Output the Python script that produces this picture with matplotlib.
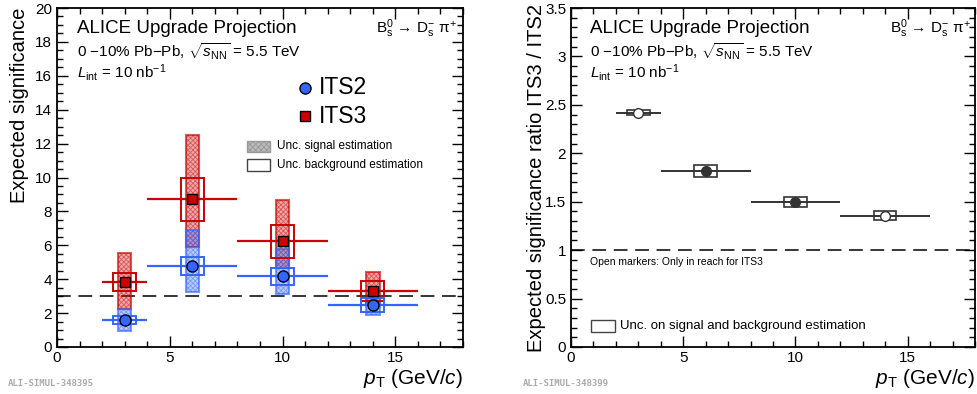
import numpy as np
import matplotlib
matplotlib.use("Agg")
import matplotlib.pyplot as plt
from matplotlib.patches import Rectangle
from matplotlib.ticker import MultipleLocator

plt.rcParams['font.family'] = ['Liberation Sans', 'DejaVu Sans']
plt.rcParams['mathtext.fontset'] = 'custom'
plt.rcParams['mathtext.rm'] = 'Liberation Sans'
plt.rcParams['mathtext.it'] = 'Liberation Sans:italic'
plt.rcParams['mathtext.bf'] = 'Liberation Sans:bold'
plt.rcParams['hatch.linewidth'] = 0.6

# pT bins (GeV/c)
pt = [3, 6, 10, 14]
pt_lo = [2, 4, 8, 12]
pt_hi = [4, 8, 12, 16]

# expected significance
its2 = [1.57, 4.80, 4.16, 2.45]
its3 = [3.82, 8.73, 6.25, 3.31]

# unc. on signal estimation (hatched)
its2_sig_lo = [0.92, 3.25, 3.10, 1.90]
its2_sig_hi = [2.24, 6.90, 5.80, 2.90]
its3_sig_lo = [2.24, 5.92, 4.65, 2.60]
its3_sig_hi = [5.57, 12.50, 8.67, 4.45]

# unc. on background estimation (open boxes)
its2_bkg_lo = [1.35, 4.22, 3.63, 2.06]
its2_bkg_hi = [1.80, 5.33, 4.65, 2.88]
its3_bkg_lo = [3.29, 7.43, 5.27, 2.73]
its3_bkg_hi = [4.35, 9.97, 7.20, 3.88]

# ratio ITS3 / ITS2
ratio = [2.42, 1.82, 1.50, 1.355]
ratio_lo = [2.395, 1.76, 1.445, 1.31]
ratio_hi = [2.445, 1.88, 1.545, 1.40]
ratio_open = [True, False, False, True]

blue = '#3366ff'
red = '#cc0000'
grey = '#333333'

fig = plt.figure(figsize=(9.78, 3.94), dpi=100)
ax1 = fig.add_axes([57/978, 47/394, 406/978, 339/394])
ax2 = fig.add_axes([571/978, 47/394, 404/978, 339/394])


def style_axes(ax, ymaj, ymin):
    ax.set_xlim(0, 18)
    ax.xaxis.set_major_locator(MultipleLocator(5))
    ax.xaxis.set_minor_locator(MultipleLocator(1))
    ax.yaxis.set_major_locator(MultipleLocator(ymaj))
    ax.yaxis.set_minor_locator(MultipleLocator(ymin))
    ax.tick_params(which='both', direction='in', top=True, right=True, labelsize=11, width=1)
    ax.tick_params(which='major', length=8)
    ax.tick_params(which='minor', length=4)
    ax.tick_params(axis='x', pad=3)
    for s in ax.spines.values():
        s.set_linewidth(1.3)


def draw_sig(ax, x, lo, hi, col, w=0.3):
    for xi, l, h in zip(x, lo, hi):
        ax.add_patch(Rectangle((xi - w, l), 2*w, h - l, facecolor=col, alpha=0.33,
                               edgecolor='none', zorder=2))
        ax.add_patch(Rectangle((xi - w, l), 2*w, h - l, fill=False, hatch='xxxxxxx',
                               edgecolor=col, linewidth=0, alpha=0.5, zorder=2))
        ax.add_patch(Rectangle((xi - w, l), 2*w, h - l, fill=False,
                               edgecolor=col, linewidth=1.5, alpha=0.65, zorder=2))


def draw_bkg(ax, x, lo, hi, col, w=0.5, lw=1.4):
    for xi, l, h in zip(x, lo, hi):
        ax.add_patch(Rectangle((xi - w, l), 2*w, h - l, fill=False,
                               edgecolor=col, linewidth=lw, zorder=3))


# ---- left panel ----
style_axes(ax1, 2, 0.5)
ax1.set_ylim(0, 20)
draw_sig(ax1, pt, its3_sig_lo, its3_sig_hi, red)
draw_sig(ax1, pt, its2_sig_lo, its2_sig_hi, blue)
draw_bkg(ax1, pt, its3_bkg_lo, its3_bkg_hi, red)
draw_bkg(ax1, pt, its2_bkg_lo, its2_bkg_hi, blue)
ax1.hlines(its2, pt_lo, pt_hi, color=blue, lw=1.6, zorder=4)
ax1.hlines(its3, pt_lo, pt_hi, color=red, lw=1.6, zorder=4)
ax1.plot(pt, its2, 'o', color=blue, mec='black', mew=1, ms=8, zorder=5)
ax1.plot(pt, its3, 's', color=red, mec='black', mew=1, ms=7.5, zorder=5)
ax1.axhline(3, color='black', lw=1.1, ls=(0, (9, 5)), zorder=1)

decay = 'B$_{\\mathrm{s}}^{0}$ → D$_{\\mathrm{s}}^{-}$ π$^{+}$'

ax1.text(0.049, 0.926, 'ALICE Upgrade Projection', transform=ax1.transAxes, fontsize=13.5)
ax1.text(0.049, 0.855, r'0 $-$10% Pb$-$Pb, $\sqrt{s_{\mathrm{NN}}}$ = 5.5 TeV',
         transform=ax1.transAxes, fontsize=11)
ax1.text(0.049, 0.794, r'$L_{\mathrm{int}}$ = 10 nb$^{-1}$', transform=ax1.transAxes, fontsize=11)
ax1.text(0.985, 0.926, decay, transform=ax1.transAxes, fontsize=11, ha='right')

# legend
ax1.plot([11.0], [15.3], 'o', color=blue, mec='black', mew=1, ms=8)
ax1.text(11.6, 15.3, 'ITS2', fontsize=16.5, va='center')
ax1.plot([11.0], [13.6], 's', color=red, mec='black', mew=1, ms=7.5)
ax1.text(11.6, 13.6, 'ITS3', fontsize=16.5, va='center')
ax1.add_patch(Rectangle((8.42, 11.5), 1.02, 0.65, facecolor='#bbbbbb', hatch='xxxxxx',
                        edgecolor='#999999', linewidth=1))
ax1.text(9.75, 11.84, 'Unc. signal estimation', fontsize=8.5, va='center')
ax1.add_patch(Rectangle((8.42, 10.38), 1.02, 0.71, fill=False, edgecolor='#444444', linewidth=1))
ax1.text(9.75, 10.74, 'Unc. background estimation', fontsize=8.5, va='center')

fig.text(20/978, 1 - 8/394, 'Expected significance', rotation=90, fontsize=14.5,
         ha='center', va='top')
fig.text(463/978, 1 - 384/394, r'$p_{\mathrm{T}}$ (GeV/$c$)', fontsize=15, ha='right', va='baseline')

# ---- right panel ----
style_axes(ax2, 0.5, 0.1)
ax2.set_ylim(0, 3.5)
ax2.yaxis.set_major_formatter(matplotlib.ticker.FuncFormatter(lambda v, p: '%g' % v))
draw_bkg(ax2, pt, ratio_lo, ratio_hi, grey, lw=1.2)
ax2.hlines(ratio, pt_lo, pt_hi, color=grey, lw=1.4, zorder=4)
for x, r, op in zip(pt, ratio, ratio_open):
    ax2.plot([x], [r], 'o', color='white' if op else grey, mec=grey, mew=1, ms=7, zorder=5)
ax2.axhline(1, color='black', lw=1.1, ls=(0, (9, 5)), zorder=1)

ax2.text(0.047, 0.926, 'ALICE Upgrade Projection', transform=ax2.transAxes, fontsize=13.5)
ax2.text(0.047, 0.855, r'0 $-$10% Pb$-$Pb, $\sqrt{s_{\mathrm{NN}}}$ = 5.5 TeV',
         transform=ax2.transAxes, fontsize=11)
ax2.text(0.047, 0.794, r'$L_{\mathrm{int}}$ = 10 nb$^{-1}$', transform=ax2.transAxes, fontsize=11)
ax2.text(0.99, 0.926, decay, transform=ax2.transAxes, fontsize=11, ha='right')
ax2.text(0.85, 0.88, 'Open markers: Only in reach for ITS3', fontsize=7.5, va='center')
ax2.add_patch(Rectangle((0.9, 0.155), 1.07, 0.125, fill=False, edgecolor='#444444', linewidth=1))
ax2.text(2.2, 0.22, 'Unc. on signal and background estimation', fontsize=9.5, va='center')

fig.text(537/978, 1 - 4/394, 'Expected significance ratio ITS3 / ITS2', rotation=90, fontsize=14.5,
         ha='center', va='top')
fig.text(975/978, 1 - 384/394, r'$p_{\mathrm{T}}$ (GeV/$c$)', fontsize=15, ha='right', va='baseline')

# watermarks
fig.text(8/978, 1 - 384/394, 'ALI-SIMUL-348395', fontsize=6.5, family='DejaVu Sans Mono',
         weight='bold', color='#aaaaaa', va='center')
fig.text(523/978, 1 - 384/394, 'ALI-SIMUL-348399', fontsize=6.5, family='DejaVu Sans Mono',
         weight='bold', color='#aaaaaa', va='center')

fig.savefig('out.png', dpi=100)
